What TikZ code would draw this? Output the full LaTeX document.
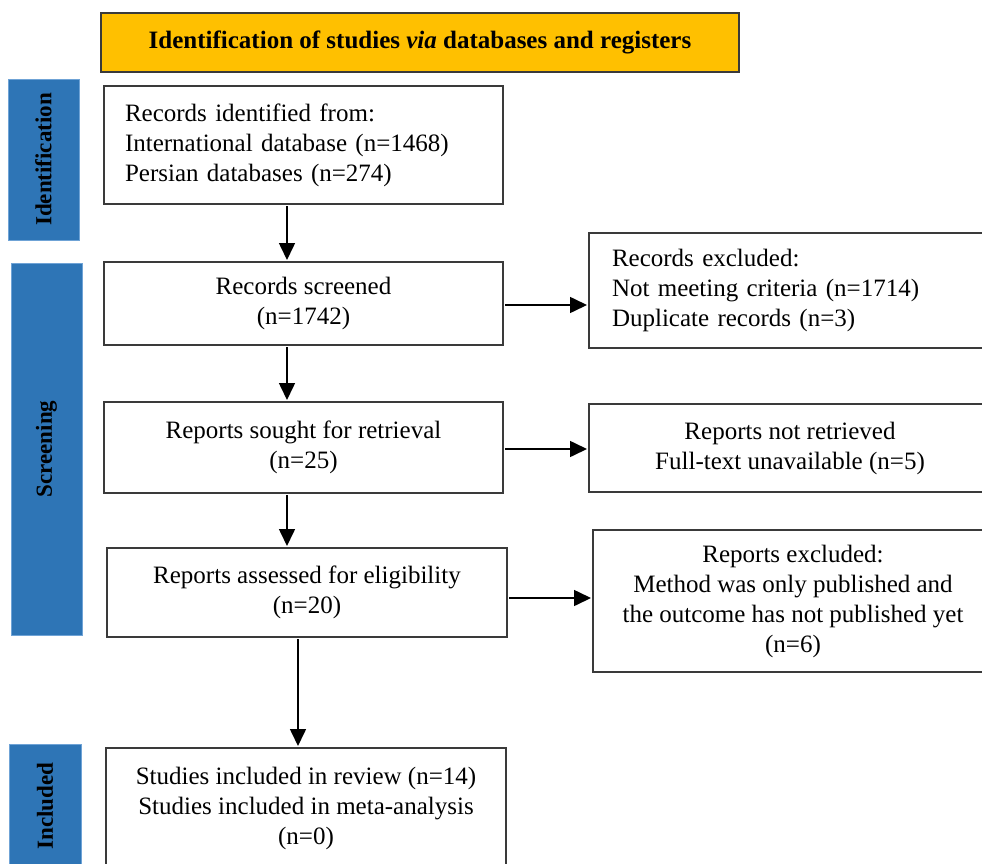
\documentclass[tikz,border=0pt]{standalone}
\usepackage{fontspec}
\setmainfont{Liberation Serif}
\usetikzlibrary{arrows.meta}
\definecolor{gold}{HTML}{FFC000}
\definecolor{barblue}{HTML}{2E75B6}
\definecolor{baredge}{HTML}{6FA3D6}
\definecolor{boxline}{HTML}{3A3A3A}
\begin{document}
\begin{tikzpicture}[x=1pt,y=-1pt,
  box/.style={draw=boxline, line width=1.4pt, inner sep=0pt, outer sep=0pt,
    font=\fontsize{25}{30}\selectfont, align=center},
  bar/.style={fill=barblue, draw=baredge, line width=0.8pt, inner sep=0pt, outer sep=0pt,
    rotate=90, font=\fontsize{23}{27}\selectfont\bfseries},
  arr/.style={-{Triangle[width=16pt,length=17pt]}, line width=1.6pt, shorten >=2pt, shorten <=2pt}
]
\useasboundingbox (0,0) rectangle (982,864);
\clip (0,0) rectangle (982,864);

% title
\node[box, fill=gold, minimum width=638, minimum height=59, font=\fontsize{25}{30}\selectfont\bfseries]
  (title) at (420,42.5) {Identification of studies \textit{via} databases and registers};

% side bars
\node[bar, minimum width=161, minimum height=71] (bid) at (43.5,159.5) {Identification};
\node[bar, minimum width=372, minimum height=71] (bsc) at (46.5,449) {Screening};
\node[bar, minimum width=124, minimum height=72] (bin) at (45,806) {Included};

% main column
\node[box, minimum width=399, minimum height=118, text width=357, align=left] (b1) at (303.5,145)
  {Records identified from:\\International database (n=1468)\\Persian databases (n=274)};
\node[box, minimum width=399, minimum height=83] (b2) at (303.5,303.5)
  {Records screened\\(n=1742)};
\node[box, minimum width=399, minimum height=91] (b3) at (303.5,447.5)
  {Reports sought for retrieval\\(n=25)};
\node[box, minimum width=400, minimum height=89] (b4) at (307,592.5)
  {Reports assessed for eligibility\\(n=20)};
\node[box, minimum width=400, minimum height=120] (b5) at (306,808)
  {Studies included in review (n=14)\\Studies included in meta-analysis\\(n=0)};

% exclusion column
\node[box, minimum width=402, minimum height=115, text width=356, align=left] (e1) at (790,290.5)
  {Records excluded:\\Not meeting criteria (n=1714)\\Duplicate records (n=3)};
\node[box, minimum width=402, minimum height=88] (e2) at (790,448)
  {Reports not retrieved\\Full-text unavailable (n=5)};
\node[box, minimum width=400, minimum height=142] (e3) at (793,601)
  {Reports excluded:\\Method was only published and\\the outcome has not published yet\\(n=6)};

% connectors
\draw[arr] ([xshift=-16.5pt]b1.south) -- ([xshift=-16.5pt]b2.north);
\draw[arr] ([xshift=-16.5pt]b2.south) -- ([xshift=-16.5pt]b3.north);
\draw[arr] ([xshift=-16.5pt]b3.south) -- ([xshift=-20pt]b4.north);
\draw[arr] ([xshift=-9pt]b4.south) -- ([xshift=-8pt]b5.north);

\draw[arr] ([yshift=-1.5pt]b2.east) -- ([yshift=-1.5pt]b2.east -| e1.west);
\draw[arr] ([yshift=-1.5pt]b3.east) -- ([yshift=-1.5pt]b3.east -| e2.west);
\draw[arr] ([yshift=-5.5pt]b4.east) -- ([yshift=-5.5pt]b4.east -| e3.west);
\end{tikzpicture}
\end{document}
